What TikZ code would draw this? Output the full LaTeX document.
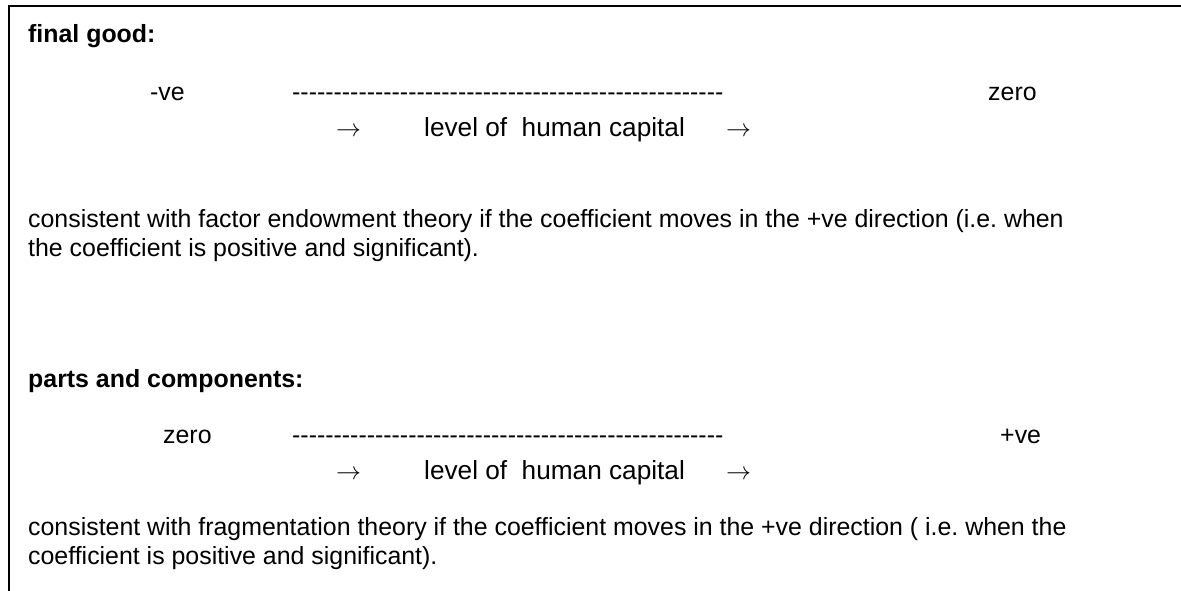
\documentclass[tikz,border=0pt]{standalone}
\usepackage{fontspec}
\setmainfont{Liberation Sans}
\frenchspacing
\newcommand\hyph{-\kern0pt}
\newcommand\hfour{\hyph\hyph\hyph\hyph}
\newcommand\htwenty{\hfour\hfour\hfour\hfour\hfour}
\newcommand\dashrow{\htwenty\htwenty\hfour\hfour\hfour}
\tikzset{
  txt/.style={inner sep=0pt, anchor=base west, font=\fontsize{24.9}{28.75}\selectfont},
  lvl/.style={inner sep=0pt, anchor=base west, font=\fontsize{26.2}{30}\selectfont},
  hd/.style={txt, font=\fontsize{24.9}{28.75}\selectfont\bfseries},
  frame/.style={line width=2pt, line cap=rect}
}
\begin{document}
\begin{tikzpicture}[x=1pt,y=-1pt]
\useasboundingbox (0,0) rectangle (1181,590);
\draw[frame] (8.5,591) -- (8.5,6) -- (1182,6);

% final good
\node[hd] (fg) at (28,42) {final good:};
\node[txt] (neg1) at (150,100) {-ve};
\node[txt] (dash1) at (292,100) {\dashrow};
\node[txt] (zero1) at (988,100) {zero};
\node[txt] (la1) at (336,136) {$\rightarrow$};
\node[lvl] (lv1) at (424,136) {level of\ \ human capital};
\node[txt] (ra1) at (726,136) {$\rightarrow$};
\node[txt] (c1a) at (28,227) {consistent with factor endowment theory if the coefficient moves in the +ve direction (i.e. when};
\node[txt] (c1b) at (28,256) {the coefficient is positive and significant).};

% parts and components
\node[hd] (pc) at (28,387) {parts and components:};
\node[txt] (zero2) at (163,443) {zero};
\node[txt] (dash2) at (292,443) {\dashrow};
\node[txt] (pos2) at (1000,443) {+ve};
\node[txt] (la2) at (336,479) {$\rightarrow$};
\node[lvl] (lv2) at (424,479) {level of\ \ human capital};
\node[txt] (ra2) at (726,479) {$\rightarrow$};
\node[txt] (c2a) at (28,535) {consistent with fragmentation theory if the coefficient moves in the +ve direction ( i.e. when the};
\node[txt] (c2b) at (28,564) {coefficient is positive and significant).};
\end{tikzpicture}
\end{document}
